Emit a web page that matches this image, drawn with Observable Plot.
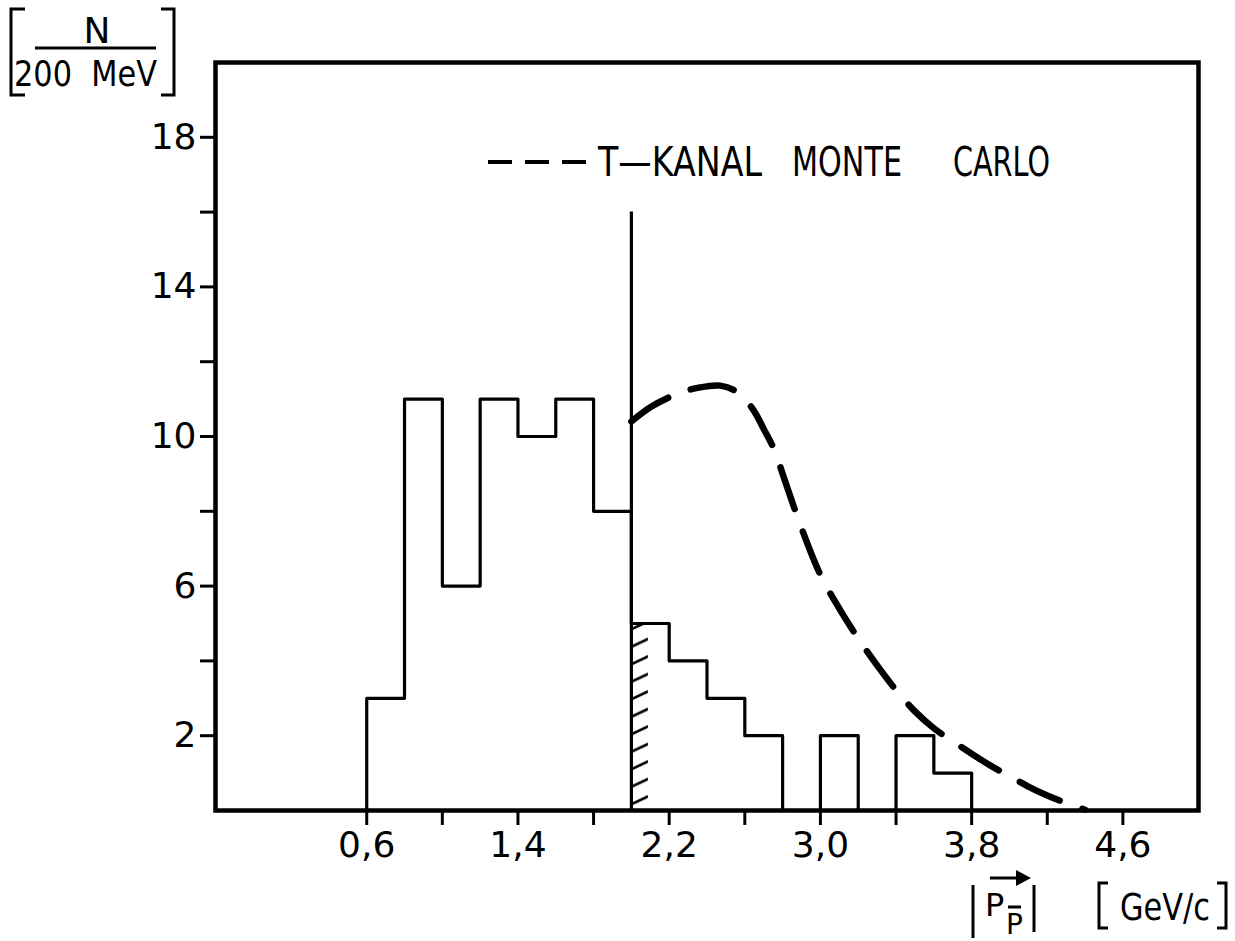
<!DOCTYPE html>
<html><head><meta charset="utf-8">
<script src="https://cdn.jsdelivr.net/npm/d3@7"></script>
<script src="https://cdn.jsdelivr.net/npm/@observablehq/plot@0.6"></script>
<style>
body{margin:0;background:#fff;}
#chart{width:1235px;height:941px;}
</style></head><body><div id="chart"></div>
<script>
// Histogram: bin starts (GeV/c), bin width 0.2, counts per 200 MeV
const binStarts = [0.6,0.8,1.0,1.2,1.4,1.6,1.8,2.0,2.2,2.4,2.6,2.8,3.0,3.2,3.4,3.6];
const binCounts = [3,11,6,11,10,11,8,5,4,3,2,0,2,0,2,1];
const binWidth = 0.2;
// cut line and hatched side
const cutMomentum = 2.0;
const cutLineTop = 16;
const hatchWidth = 0.09;
// T-Kanal Monte Carlo curve
const mcX = [2.0,2.1,2.2,2.3,2.4,2.47,2.55,2.64,2.7,2.76,2.8,2.9,3.0,3.1,3.2,3.3,3.4,3.5,3.6,3.7,3.8,3.9,4.0,4.1,4.2,4.3,4.4];
const mcY = [10.4,10.78,11.05,11.24,11.34,11.36,11.22,10.75,10.2,9.6,9.0,7.55,6.3,5.4,4.6,3.88,3.22,2.65,2.2,1.85,1.52,1.2,0.92,0.64,0.4,0.2,0.02];
// axis ticks
const xTickValues = [0.6,1.0,1.4,1.8,2.2,2.6,3.0,3.4,3.8,4.2,4.6];
const xTickLabels = ["0,6","","1,4","","2,2","","3,0","","3,8","","4,6"];
const yTickValues = [2,4,6,8,10,12,14,16,18];
const yTickLabels = ["2","","6","","10","","14","","18"];
const legendLabel = ["T—KANAL","MONTE","CARLO"];

const FONT = "'DejaVu Sans',sans-serif";
const NARROW = "'Liberation Sans Narrow','DejaVu Sans',sans-serif";
const outline = [{x: binStarts[0], y: 0}]
  .concat(binStarts.map((s, i) => ({x: s, y: binCounts[i]})))
  .concat([{x: binStarts[binStarts.length - 1] + binWidth, y: 0}]);
const cutIndex = binStarts.indexOf(cutMomentum);
const hatch = [{x1: cutMomentum, x2: cutMomentum + hatchWidth, y1: 0, y2: binCounts[cutIndex]}];
const mc = mcX.map((x, i) => ({x, y: mcY[i]}));
const xLab = new Map(xTickValues.map((v, i) => [v, xTickLabels[i]]));
const yLab = new Map(yTickValues.map((v, i) => [v, yTickLabels[i]]));

const plot = Plot.plot({
  width: 1235, height: 941,
  marginLeft: 215, marginRight: 37, marginTop: 62, marginBottom: 131,
  x: {domain: [-0.2, 5.0]},
  y: {domain: [0, 20]},
  style: {fontSize: "36px", fontFamily: FONT, color: "black", background: "white"},
  marks: [
    Plot.rect(hatch, {x1: "x1", x2: "x2", y1: "y1", y2: "y2", fill: "url(#hatch)"}),
    Plot.line(outline, {x: "x", y: "y", curve: "step-after", stroke: "black", strokeWidth: 3.2}),
    Plot.ruleX([cutMomentum], {y1: 0, y2: cutLineTop, stroke: "black", strokeWidth: 3.2}),
    Plot.line(mc, {x: "x", y: "y", curve: "catmull-rom", stroke: "black", strokeWidth: 6.5,
      strokeDasharray: "44,24", strokeLinecap: "round"}),
    Plot.axisX({ticks: xTickValues, tickFormat: d => xLab.get(d), tickSize: 15, tickPadding: 6,
      strokeWidth: 3, label: null, fontSize: 36}),
    Plot.axisY({ticks: yTickValues, tickFormat: d => yLab.get(d), tickSize: 15, tickPadding: 4,
      strokeWidth: 3, label: null, fontSize: 36}),
    Plot.frame({stroke: "black", strokeWidth: 4.5})
  ]
});
document.getElementById("chart").appendChild(plot);

const svg = d3.select(plot);
const sx = plot.scale("x");
const px0 = sx.apply(cutMomentum);
// hatch pattern
const defs = svg.insert("defs", ":first-child");
const pat = defs.append("pattern").attr("id", "hatch").attr("patternUnits", "userSpaceOnUse")
  .attr("x", px0).attr("y", 0).attr("width", 40).attr("height", 17.5);
pat.append("path").attr("d", "M0,17 L17,9").attr("stroke", "black").attr("stroke-width", 2.6)
  .attr("stroke-linecap", "round");

const g = svg.append("g").attr("font-family", FONT).attr("text-anchor", "start").attr("fill", "black");
// legend
const ly = 162;
[[488, 512], [525, 549], [562, 586]].forEach(([a, b]) =>
  g.append("line").attr("x1", a).attr("x2", b).attr("y1", ly).attr("y2", ly)
    .attr("stroke", "black").attr("stroke-width", 4));
const legPos = [[598, 164], [792, 110], [953, 97]];
legendLabel.forEach((t, i) => g.append("text").attr("x", legPos[i][0]).attr("y", 176)
  .attr("font-family", NARROW).attr("font-size", 40)
  .attr("textLength", legPos[i][1]).attr("lengthAdjust", "spacingAndGlyphs").text(t));

// y label [N / 200 MeV]
const yl = g.append("g").attr("stroke", "black").attr("stroke-width", 3).attr("fill", "none");
yl.append("path").attr("d", "M25,9 H11 V95 H25");
yl.append("path").attr("d", "M161,9 H174 V95 H161");
yl.append("line").attr("x1", 35).attr("x2", 156).attr("y1", 48).attr("y2", 48);
g.append("text").attr("x", 97).attr("y", 43).attr("text-anchor", "middle").attr("font-size", 36).text("N");
g.append("text").attr("x", 14).attr("y", 86).attr("font-size", 36).attr("textLength", 143)
  .attr("lengthAdjust", "spacingAndGlyphs").text("200  MeV");

// x label |P_p̄| [GeV/c]
const xl = g.append("g").attr("stroke", "black").attr("stroke-width", 3).attr("fill", "none");
xl.append("line").attr("x1", 973).attr("x2", 973).attr("y1", 885).attr("y2", 938);
xl.append("line").attr("x1", 1034).attr("x2", 1034).attr("y1", 885).attr("y2", 932);
xl.append("line").attr("x1", 990).attr("x2", 1018).attr("y1", 878).attr("y2", 878);
g.append("path").attr("d", "M1016,870 L1031,878 L1016,886 Z").attr("fill", "black");
g.append("text").attr("x", 985).attr("y", 916).attr("font-size", 32).text("P");
xl.append("line").attr("x1", 1008).attr("x2", 1021).attr("y1", 907).attr("y2", 907);
g.append("text").attr("x", 1006).attr("y", 934).attr("font-size", 28).text("P");
xl.append("path").attr("d", "M1108,883 H1099 V928 H1108");
xl.append("path").attr("d", "M1217,883 H1226 V928 H1217");
g.append("text").attr("x", 1120).attr("y", 920).attr("font-size", 38).attr("textLength", 90)
  .attr("lengthAdjust", "spacingAndGlyphs").text("GeV/c");
</script></body></html>
